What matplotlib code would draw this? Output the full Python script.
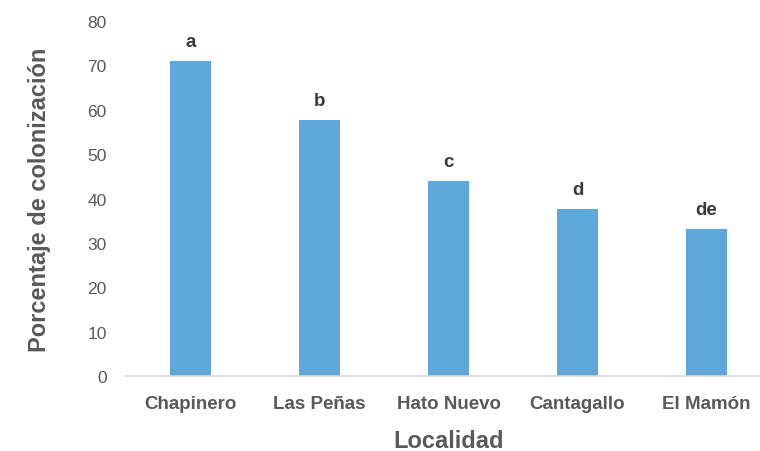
import matplotlib
matplotlib.use("Agg")
import matplotlib.pyplot as plt

# data
localidades = ["Chapinero", "Las Peñas", "Hato Nuevo", "Cantagallo", "El Mamón"]
colonizacion = [70.9, 57.7, 43.9, 37.6, 33.1]
letras = ["a", "b", "c", "d", "de"]
y_ticks = [0, 10, 20, 30, 40, 50, 60, 70, 80]

plt.rcParams["font.family"] = ["Liberation Sans", "DejaVu Sans"]

bar_color = "#5FA6DB"
text_gray = "#595959"
letter_color = "#3A3A3A"

fig = plt.figure(figsize=(7.6, 4.52), dpi=100)
# axes runs a bit past the right edge, as in the cropped original
ax = fig.add_axes([0.1658, 0.1659, 0.8487, 0.7854])

x = list(range(len(localidades)))
ax.bar(x, colonizacion, width=0.318, color=bar_color, zorder=2)

for xi, val, lab in zip(x, colonizacion, letras):
    ax.text(xi, val + 2.5, lab, ha="center", va="bottom", fontsize=13.5,
            fontweight="bold", color=letter_color)

ax.set_xlim(-0.5, 4.5)
ax.set_ylim(0, 80)
ax.set_yticks(y_ticks)
ax.set_xticks(x)
ax.set_xticklabels(localidades, fontsize=13.5, fontweight="bold", color=text_gray)
ax.tick_params(axis="y", length=0, pad=14, labelsize=12.5, labelcolor=text_gray)
ax.tick_params(axis="x", length=0, pad=14)

for side in ["top", "right", "left"]:
    ax.spines[side].set_visible(False)
ax.spines["bottom"].set_color("#D9D9D9")
ax.spines["bottom"].set_linewidth(1.2)

ax.set_ylabel("Porcentaje de colonización", fontsize=17, fontweight="bold",
              color=text_gray, labelpad=26)
ax.set_xlabel("Localidad", fontsize=17, fontweight="bold", color=text_gray,
              labelpad=12)

fig.savefig("out.png", dpi=100)
